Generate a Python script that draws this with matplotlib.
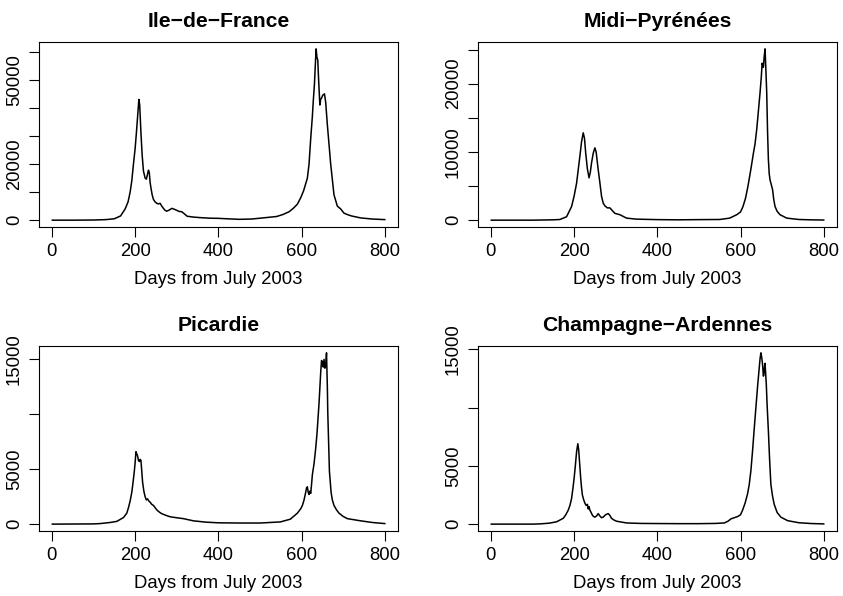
import matplotlib
matplotlib.use("Agg")
import matplotlib.pyplot as plt

plt.rcParams['font.family'] = ['Liberation Sans', 'DejaVu Sans']

# daily case counts, per region
idf_days = [1, 50, 100, 130, 150, 165, 176, 183, 188, 192, 196, 200, 203, 206, 209, 211, 214, 217, 220, 224,
            227, 230, 232, 234, 236, 238, 241, 244, 248, 252, 256, 260, 264, 268, 272, 276, 282, 288, 294, 300,
            306, 312, 318, 325, 340, 357, 380, 400, 420, 450, 480, 500, 520, 540, 555, 570, 580, 590, 598, 605,
            610, 614, 618, 622, 626, 628, 631, 633, 635, 637, 639, 641, 644, 646, 648, 651, 655, 658, 662, 666,
            670, 674, 678, 682, 686, 694, 702, 710, 720, 742, 770, 800]
idf_vals = [0, 0, 50, 200, 500, 1500, 4000, 6500, 10000, 14000, 20000, 25500, 31000, 37000, 43000, 41000, 31000, 23000, 17500, 15000,
            14600, 16500, 17800, 17000, 13500, 11500, 9000, 7400, 6500, 6000, 5800, 6000, 5000, 4200, 3500, 3200, 3600, 4200, 3900, 3500,
            3100, 3000, 2300, 1400, 1100, 900, 700, 650, 500, 300, 400, 700, 1000, 1300, 2000, 3000, 4200, 5700, 8000, 10500,
            13000, 15000, 20000, 29000, 37000, 42000, 48500, 55000, 61000, 58000, 57000, 50000, 41000, 43000, 43500, 44500, 45000, 42000, 34000, 27000,
            20000, 14500, 9000, 7000, 5000, 4000, 2500, 2000, 1500, 800, 400, 200]

mp_days = [1, 100, 150, 166, 182, 194, 200, 206, 210, 214, 218, 222, 225, 228, 232, 236, 239, 242, 246, 250,
           253, 258, 262, 266, 270, 274, 280, 286, 292, 298, 310, 326, 350, 400, 450, 500, 550, 574, 591, 600,
           606, 612, 618, 625, 631, 635, 639, 643, 647, 650, 652, 655, 657, 659, 661, 663, 665, 667, 669, 671,
           674, 677, 680, 683, 688, 695, 711, 740, 768, 800]
mp_vals = [0, 0, 50, 100, 500, 2000, 3500, 5400, 7400, 9400, 11500, 12800, 12000, 9800, 7500, 6200, 7000, 8400, 9800, 10600,
           10000, 7400, 5500, 3500, 2500, 2100, 1800, 1800, 1400, 1000, 800, 300, 150, 80, 50, 80, 100, 300, 800, 1200,
           2000, 3200, 5000, 7500, 9800, 11200, 13300, 16000, 18700, 21000, 23000, 22400, 24000, 25100, 22000, 18700, 13000, 8900, 6800, 5900,
           5200, 4500, 3000, 2000, 1300, 800, 300, 100, 50, 20]

pic_days = [1, 100, 116, 140, 156, 172, 180, 184, 188, 192, 195, 198, 200, 202, 204, 206, 208, 210, 212, 214,
            216, 218, 221, 224, 227, 230, 233, 236, 240, 244, 248, 252, 258, 264, 274, 284, 300, 316, 340, 370,
            400, 450, 500, 549, 573, 590, 598, 602, 606, 610, 612, 614, 616, 618, 620, 622, 624, 626, 630, 634,
            637, 639, 642, 644, 646, 648, 650, 652, 654, 656, 658, 660, 662, 663, 665, 667, 671, 674, 678, 684,
            690, 700, 710, 742, 770, 800]
pic_vals = [0, 20, 50, 150, 250, 600, 1000, 1500, 2100, 2900, 3800, 4800, 5600, 6600, 6400, 6200, 5800, 5700, 5900, 5800,
            4800, 3800, 3000, 2500, 2200, 2300, 2100, 2000, 1800, 1700, 1500, 1300, 1100, 950, 800, 670, 580, 500, 300, 180,
            120, 100, 100, 200, 450, 1000, 1400, 1700, 2200, 2900, 3300, 3400, 2900, 2700, 3000, 2800, 3600, 4500, 5500, 6900,
            8200, 9300, 11000, 12400, 13800, 14900, 14800, 14300, 15000, 14200, 14500, 15600, 12500, 10200, 7500, 4800, 2900, 2200, 1700, 1300,
            1000, 700, 500, 300, 150, 50]

ca_days = [1, 100, 118, 140, 158, 174, 180, 186, 190, 194, 197, 200, 203, 206, 209, 211, 212, 214, 216, 218,
           220, 223, 226, 229, 232, 234, 236, 238, 241, 244, 247, 250, 254, 258, 262, 266, 270, 274, 278, 282,
           286, 290, 296, 302, 326, 360, 400, 450, 500, 540, 561, 570, 577, 585, 593, 600, 605, 611, 617, 621,
           625, 629, 633, 637, 641, 645, 647, 649, 651, 653, 655, 656, 658, 659, 660, 662, 664, 667, 670, 673,
           677, 681, 688, 697, 713, 740, 770, 800]
ca_vals = [0, 0, 20, 80, 200, 500, 800, 1200, 1600, 2200, 3000, 3900, 5000, 6200, 6900, 6400, 5900, 4900, 3900, 3100,
           2500, 2100, 1800, 1600, 1700, 1300, 1500, 1200, 1000, 770, 650, 600, 700, 900, 700, 550, 600, 750, 850, 900,
           750, 500, 350, 250, 100, 60, 50, 40, 40, 60, 100, 250, 450, 550, 650, 800, 1200, 1800, 2600, 3400,
           4600, 6300, 8200, 10000, 11800, 13400, 14200, 14700, 14300, 13700, 12700, 12800, 13600, 13800, 13200, 12000, 10200, 8000, 5500, 3400,
           2400, 1700, 1000, 600, 300, 120, 50, 20]

titles = ["Ile\u2212de\u2212France", "Midi\u2212Pyrénées", "Picardie", "Champagne\u2212Ardennes"]
all_days = [idf_days, mp_days, pic_days, ca_days]
all_vals = [idf_vals, mp_vals, pic_vals, ca_vals]
# ticks drawn / ticks that get a label (R drops the ones that would overlap)
yticks = [[0, 10000, 20000, 30000, 40000, 50000, 60000],
          [0, 5000, 10000, 15000, 20000, 25000],
          [0, 5000, 10000, 15000],
          [0, 5000, 10000, 15000]]
ylabeled = [[0, 20000, 50000], [0, 10000, 20000], [0, 5000, 15000], [0, 5000, 15000]]
xticks = [0, 200, 400, 600, 800]

fig = plt.figure(figsize=(8.43, 5.96), dpi=100)
positions = [[0.0463, 0.6191, 0.4259, 0.3104],
             [0.5670, 0.6191, 0.4259, 0.3104],
             [0.0463, 0.1091, 0.4259, 0.3104],
             [0.5670, 0.1091, 0.4259, 0.3104]]

for i in range(4):
    ax = fig.add_axes(positions[i])
    ax.plot(all_days[i], all_vals[i], color='black', lw=1.1)
    top = max(all_vals[i])
    ax.set_ylim(-0.04 * top, 1.04 * top)
    ax.set_xlim(1 - 0.04 * 799, 800 + 0.04 * 799)
    ax.set_xticks(xticks)
    ax.set_xticklabels([str(t) for t in xticks])
    ax.set_yticks(yticks[i])
    ax.set_yticklabels([str(t) if t in ylabeled[i] else "" for t in yticks[i]])
    ax.tick_params(direction='out', length=7, width=0.8, labelsize=13.3, pad=4.5)
    ax.tick_params(axis='y', labelrotation=90)
    for lab in ax.get_yticklabels():
        lab.set_verticalalignment('center')
    for s in ax.spines.values():
        s.set_linewidth(0.8)
    ax.set_xlabel("Days from July 2003", fontsize=13.3, labelpad=8)
    ax.set_title(titles[i], fontsize=15.2, fontweight='bold', pad=11)

fig.savefig("out.png", dpi=100)
